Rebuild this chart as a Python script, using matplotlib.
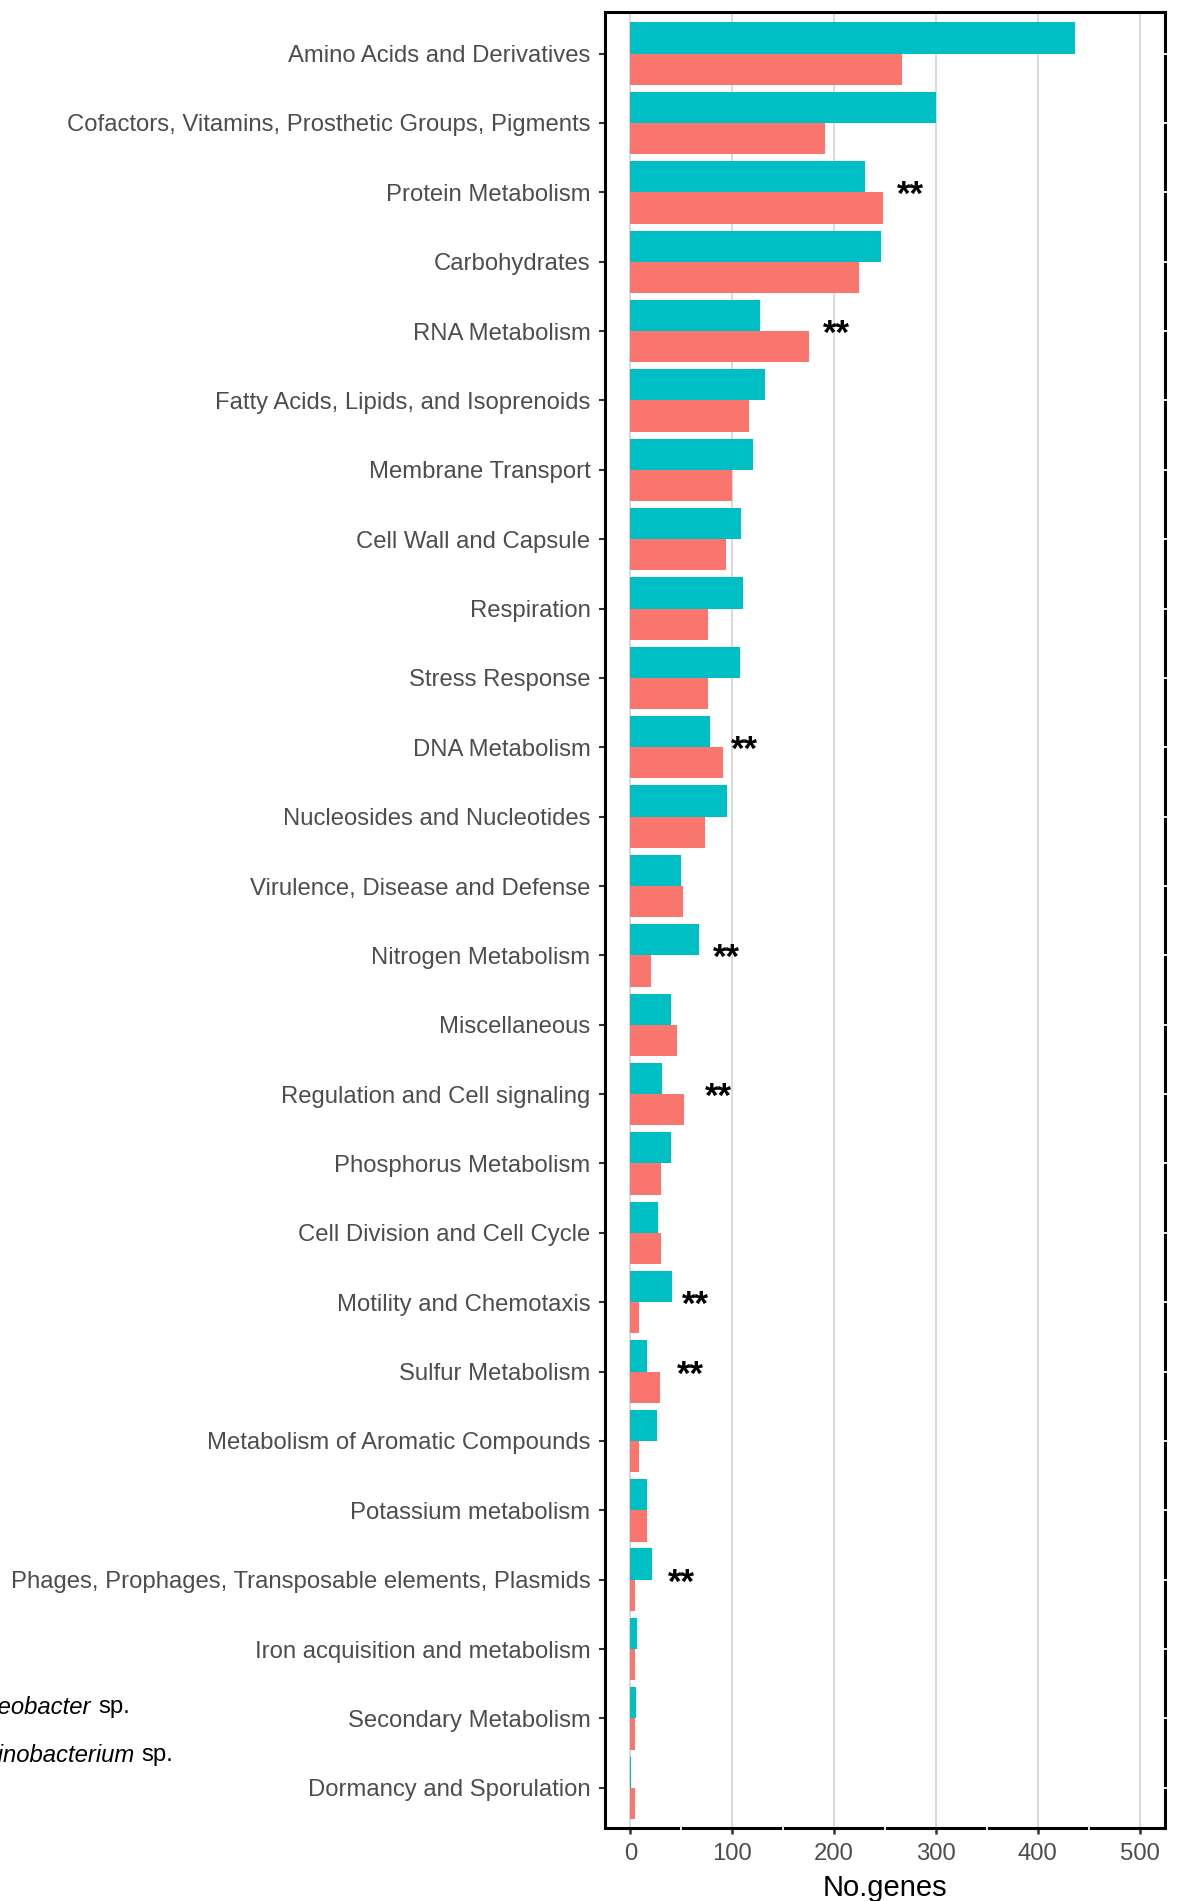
import matplotlib
matplotlib.use("Agg")
import matplotlib.pyplot as plt
import numpy as np

plt.rcParams['font.family'] = ['Liberation Sans', 'DejaVu Sans']

categories = [
    "Amino Acids and Derivatives",
    "Cofactors, Vitamins, Prosthetic Groups, Pigments",
    "Protein Metabolism",
    "Carbohydrates",
    "RNA Metabolism",
    "Fatty Acids, Lipids, and Isoprenoids",
    "Membrane Transport",
    "Cell Wall and Capsule",
    "Respiration",
    "Stress Response",
    "DNA Metabolism",
    "Nucleosides and Nucleotides",
    "Virulence, Disease and Defense",
    "Nitrogen Metabolism",
    "Miscellaneous",
    "Regulation and Cell signaling",
    "Phosphorus Metabolism",
    "Cell Division and Cell Cycle",
    "Motility and Chemotaxis",
    "Sulfur Metabolism",
    "Metabolism of Aromatic Compounds",
    "Potassium metabolism",
    "Phages, Prophages, Transposable elements, Plasmids",
    "Iron acquisition and metabolism",
    "Secondary Metabolism",
    "Dormancy and Sporulation",
]
# teal series (second level) and red series (first level)
aminobacterium = [437, 300, 230, 246, 127, 132, 120, 109, 111, 108, 78, 95, 50,
                  67, 40, 31, 40, 27, 41, 16, 26, 16, 21, 6, 5, 1]
geobacter = [267, 191, 248, 224, 175, 116, 100, 94, 76, 76, 91, 73, 52,
             20, 46, 53, 30, 30, 8, 29, 8, 16, 4, 4, 4, 4]

star_categories = ["Protein Metabolism", "RNA Metabolism", "DNA Metabolism",
                   "Nitrogen Metabolism", "Regulation and Cell signaling",
                   "Motility and Chemotaxis", "Sulfur Metabolism",
                   "Phages, Prophages, Transposable elements, Plasmids"]
star_x = [275, 202, 112, 94, 86, 64, 59, 50]

x_ticks = [0, 100, 200, 300, 400, 500]
x_minor = [50, 150, 250, 350, 450]

TEAL = "#00BFC4"
RED = "#F8766D"

W, H = 1177, 1901
fig = plt.figure(figsize=(W / 100, H / 100), dpi=100)
ax = fig.add_axes([605 / W, 1 - 1828 / H, (1165 - 605) / W, (1828 - 12) / H])

n = len(categories)
y = np.arange(n)
bh = 0.45
ax.barh(y - bh / 2, aminobacterium, height=bh, color=TEAL, zorder=3, linewidth=0)
ax.barh(y + bh / 2, geobacter, height=bh, color=RED, zorder=3, linewidth=0)

for c, sx in zip(star_categories, star_x):
    i = categories.index(c)
    ax.text(sx, i + 0.05, "**", ha="center", va="center", fontsize=25,
            fontweight="bold", color="black", zorder=4)

ax.set_ylim(n - 0.42, -0.6)
ax.set_xlim(-25, 525)
ax.set_yticks(y)
ax.set_yticklabels(categories)
ax.set_xticks(x_ticks)
ax.set_xticklabels([str(v) for v in x_ticks])

ax.grid(axis="x", color="#CFCFCF", linewidth=1.1, zorder=0)
ax.grid(axis="y", visible=False)
ax.set_axisbelow(True)

for s in ax.spines.values():
    s.set_linewidth(2.2)
    s.set_color("black")

# small white breaks in the panel border (minor grid / category positions)
ybot = n - 0.42
for xm in x_minor:
    ax.plot([xm, xm], [ybot + 0.05, ybot - 0.05], color="white",
            lw=1.3, zorder=10, clip_on=False, solid_capstyle="butt")
for yi in y:
    ax.plot([525 - 2, 525 + 2], [yi, yi], color="white", lw=1.3, zorder=10,
            clip_on=False, solid_capstyle="butt")

ax.tick_params(axis="y", length=4, width=1.5, color="#333333", pad=6.5,
               labelsize=17.2, labelcolor="#4D4D4D")
ax.tick_params(axis="x", length=4.5, width=1.8, color="#333333", pad=6.5,
               labelsize=17.2, labelcolor="#4D4D4D")

ax.set_xlabel("No.genes", fontsize=21, color="black", labelpad=6.5)

# legend (partially outside the canvas, as in the reference)
fig.text(91 / W, 1 - 1707 / H, "Geobacter", style="italic", fontsize=17.2,
         ha="right", va="center", color="black")
fig.text(98 / W, 1 - 1707 / H, "sp.", fontsize=17.2, ha="left", va="center",
         color="black")
fig.text(134 / W, 1 - 1755 / H, "Aminobacterium", style="italic", fontsize=17.2,
         ha="right", va="center", color="black")
fig.text(141 / W, 1 - 1755 / H, "sp.", fontsize=17.2, ha="left", va="center",
         color="black")

fig.savefig("out.png", dpi=100)
